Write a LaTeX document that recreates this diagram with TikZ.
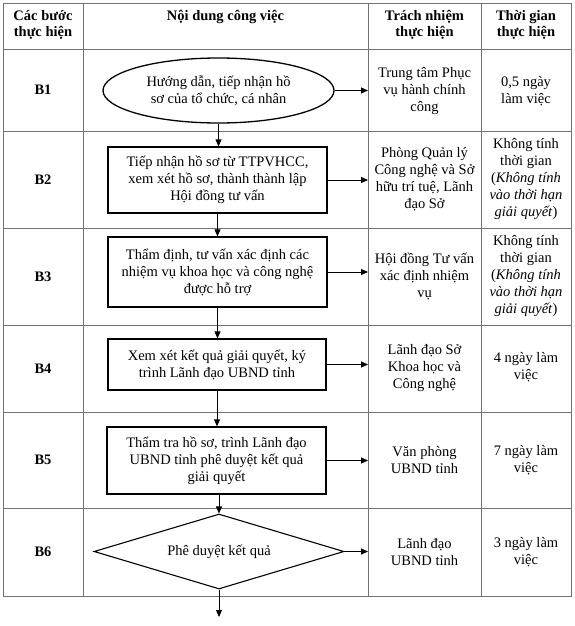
\documentclass[tikz,border=0pt]{standalone}
\usepackage{fontspec}
\setmainfont{Liberation Serif}
\usetikzlibrary{arrows.meta,shapes.geometric}
\tikzset{
  grid/.style={draw=black!55, line width=0.9pt},
  flowbox/.style={draw=black, line width=1.3pt, rectangle, inner sep=0pt, align=center},
  flowell/.style={draw=black, line width=1.3pt, ellipse, inner sep=0pt, align=center},
  flowdia/.style={draw=black, line width=1.1pt, diamond, inner sep=0pt, align=center},
  cell/.style={align=center, inner sep=0pt},
  stepcell/.style={align=center, inner sep=0pt, font=\fontsize{14.5}{17}\selectfont\bfseries},
  hcell/.style={align=center, inner sep=0pt, font=\fontsize{14.5}{16.5}\selectfont\bfseries},
  arr/.style={-{Triangle[length=7pt,width=6pt]}, line width=0.9pt, black},
}
\begin{document}
\begin{tikzpicture}[x=1pt,y=-1pt,font=\fontsize{14.5}{17}\selectfont]
\useasboundingbox (0,0) rectangle (575,626);
% table grid
\coordinate (col3) at (368,0);
\draw[grid] (3,3) rectangle (571,596);
\foreach \yy in {49,131,228,325,412,508} \draw[grid] (3,\yy) -- (571,\yy);
\foreach \xx in {83,368,481} \draw[grid] (\xx,3) -- (\xx,596);
% header
\node[hcell] (h1) at (43,25) {Các bước\\thực hiện};
\node[hcell] (h2) at (225.5,16.5) {Nội dung công việc};
\node[hcell] (h3) at (424.5,25) {Trách nhiệm\\thực hiện};
\node[hcell] (h4) at (526,25) {Thời gian\\thực hiện};
% step labels
\node[stepcell] (s1) at (43,90) {B1};
\node[stepcell] (s2) at (43,179.5) {B2};
\node[stepcell] (s3) at (43,276.5) {B3};
\node[stepcell] (s4) at (43,368.5) {B4};
\node[stepcell] (s5) at (43,460) {B5};
\node[stepcell] (s6) at (43,552) {B6};
% flow shapes
\node[flowell, minimum width=231pt, minimum height=65pt] (e1) at (218.5,90.5) {Hướng dẫn, tiếp nhận hồ\\sơ của tổ chức, cá nhân};
\node[flowbox, minimum width=219pt, minimum height=66pt] (b2) at (217.5,180) {Tiếp nhận hồ sơ từ TTPVHCC,\\xem xét hồ sơ, thành thành lập\\Hội đồng tư vấn};
\node[flowbox, minimum width=219pt, minimum height=70pt] (b3) at (217.5,272) {Thẩm định, tư vấn xác định các\\nhiệm vụ khoa học và công nghệ\\được hỗ trợ};
\node[flowbox, minimum width=218pt, minimum height=51pt] (b4) at (217,364.5) {Xem xét kết quả giải quyết, ký\\trình Lãnh đạo UBND tỉnh};
\node[flowbox, minimum width=219pt, minimum height=67pt] (b5) at (216.5,460.5) {Thẩm tra hồ sơ, trình Lãnh đạo\\UBND tỉnh phê duyệt kết quả\\giải quyết};
\node[flowdia, aspect=3.333, minimum width=250pt, minimum height=75pt] (d6) at (219,551.5) {Phê duyệt kết quả};
\coordinate (endpt) at (219,617);
% responsibility
\node[cell] (r1) at (424.5,91) {Trung tâm Phục\\vụ hành chính\\công};
\node[cell] (r2) at (424.5,179.5) {Phòng Quản lý\\Công nghệ và Sở\\hữu trí tuệ, Lãnh\\đạo Sở};
\node[cell] (r3) at (424.5,276.5) {Hội đồng Tư vấn\\xác định nhiệm\\vụ};
\node[cell] (r4) at (424.5,368.5) {Lãnh đạo Sở\\Khoa học và\\Công nghệ};
\node[cell] (r5) at (424.5,460.5) {Văn phòng\\UBND tỉnh};
\node[cell] (r6) at (424.5,552) {Lãnh đạo\\UBND tỉnh};
% time
\node[cell] (t1) at (526,91) {0,5 ngày\\làm việc};
\node[cell] (t2) at (526,179.5) {Không tính\\thời gian\\(\textit{Không tính}\\\textit{vào thời hạn}\\\textit{giải quyết})};
\node[cell] (t3) at (526,276.5) {Không tính\\thời gian\\(\textit{Không tính}\\\textit{vào thời hạn}\\\textit{giải quyết})};
\node[cell] (t4) at (526,367.5) {4 ngày làm\\việc};
\node[cell] (t5) at (526,460) {7 ngày làm\\việc};
\node[cell] (t6) at (526,552) {3 ngày làm\\việc};
% vertical arrows
\draw[arr] (e1.south) -- (e1.south |- b2.north);
\draw[arr] (b2.south) -- (b2.south |- b3.north);
\draw[arr] (b3.south) -- (b3.south |- b4.north);
\draw[arr] (b4.south) -- (b4.south |- b5.north);
\draw[arr] (b5.south -| d6.north) -- (d6.north);
\draw[arr] (d6.south) -- (endpt);
% horizontal arrows
\draw[arr] (e1.east) -- (e1.east -| col3);
\draw[arr] (b2.east) -- (b2.east -| col3);
\draw[arr] (b3.east) -- (b3.east -| col3);
\draw[arr] (b4.east) -- (b4.east -| col3);
\draw[arr] (b5.east) -- (b5.east -| col3);
\draw[arr] (d6.east) -- (d6.east -| col3);
\end{tikzpicture}
\end{document}
